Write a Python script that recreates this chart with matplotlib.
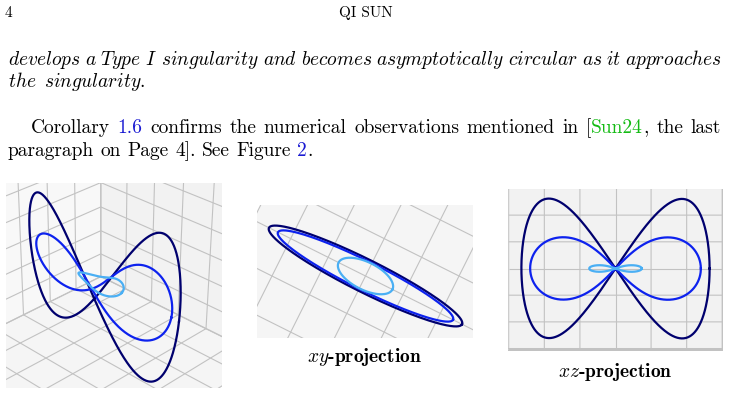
import numpy as np
import matplotlib
matplotlib.use('Agg')
import matplotlib.pyplot as plt
from matplotlib.path import Path
from matplotlib.patches import PathPatch
from matplotlib.transforms import Bbox, IdentityTransform, TransformedBbox
from mpl_toolkits.mplot3d import proj3d

plt.rcParams['mathtext.fontset'] = 'cm'
plt.rcParams['axes.unicode_minus'] = False
plt.rcParams['grid.color'] = '#c2c2c2'

W, H = 730, 395

# figure-eight space curves, amplitudes (box is [-1, 1]^3)
amp_x = [0.86, 0.78, 0.24]
amp_y = [0.13, 0.115, 0.11]
amp_z = [0.85, 0.38, 0.04]
pinch = [0.0, 1.0, 1.0]   # 0 -> Gerono-like lobes, 1 -> Bernoulli-like lobes
line_colors = ['#00006e', '#0d22ee', '#4aaff4']

ticks = np.linspace(-1, 1, 7)

views = [(30, -45), (90, -65), (0, -90)]
proj_types = [('persp', 1.0), ('ortho', None), ('persp', 5.0)]
# visible part of each panel (pixels, top-down)
crops = [(6, 183, 222, 388), (257, 205, 473, 338), (508, 189, 723, 351)]
# where the dark curve (panels 1, 2) or the back wall (panel 3) lands
targets = [(28, 194, 182, 380), (266, 227, 465, 325), (508, 189, 723, 348)]
captions = ['$xy$-projection', '$xz$-projection']
caption_pos = [(364, 362), (615, 377)]

header_left = '4'
header_mid = 'QI SUN'
italic_1 = 'develops a Type I singularity and becomes asymptotically circular as it approaches'.split()
italic_2 = ['the', 'singularity.']
LINK, CITE, TXT = '#1a1ad2', '#14bb14', 'black'
body_1 = [[('Corollary', TXT)], [('1.6', LINK)], [('confirms', TXT)], [('the', TXT)],
          [('numerical', TXT)], [('observations', TXT)], [('mentioned', TXT)], [('in', TXT)],
          [('[', TXT), ('Sun24', CITE), (',', TXT)], [('the', TXT)], [('last', TXT)]]
body_2 = [[('paragraph', TXT)], [('on', TXT)], [('Page', TXT)], [('4].', TXT)],
          [('See', TXT)], [('Figure', TXT)], [('2', LINK), ('.', TXT)]]


def figure_eight(i, n=800):
    # xy-shadow is an ellipse, xz-shadow a figure eight whose lobes go
    # from Gerono (pinch 0) to Bernoulli (pinch 1) shape
    t = np.linspace(0, 2 * np.pi, n)
    c, s = np.cos(t), np.sin(t)
    gerono = 2 * c * s
    bern = np.sign(c * s) * np.sqrt(np.clip((np.sqrt(1 + 8 * c ** 2) - 1 - 2 * c ** 2) / 2, 0, None))
    bern = bern / bern.max()
    z = (1 - pinch[i]) * gerono + pinch[i] * bern
    return amp_x[i] * c, amp_y[i] * s, amp_z[i] * z / z.max()


fig = plt.figure(figsize=(W / 100, H / 100), dpi=100)


def screen_box(ax, pts):
    xs, ys, _ = proj3d.proj_transform(*pts, ax.get_proj())
    d = ax.transData.transform(np.column_stack([xs, ys]))
    return d[:, 0].min(), H - d[:, 1].max(), d[:, 0].max(), H - d[:, 1].min()


def fit(ax, pts, target):
    zoom = 1.0
    for _ in range(4):
        fig.canvas.draw()
        x0, y0, x1, y1 = screen_box(ax, pts)
        zoom *= 0.5 * ((target[2] - target[0]) / (x1 - x0) + (target[3] - target[1]) / (y1 - y0))
        ax.set_box_aspect(None, zoom=zoom)
        fig.canvas.draw()
        x0, y0, x1, y1 = screen_box(ax, pts)
        dx = (target[0] + target[2]) / 2 - (x0 + x1) / 2
        dy = (target[1] + target[3]) / 2 - (y0 + y1) / 2
        p = ax.get_position(original=True)
        ax.set_position([p.x0 + dx / W, p.y0 - dy / H, p.width, p.height])


axes = []
for k, (elev, azim) in enumerate(views):
    c = crops[k]
    ax = fig.add_axes([c[0] / W, 1 - c[3] / H, (c[2] - c[0]) / W, (c[3] - c[1]) / H],
                      projection='3d')
    ax.set_facecolor('none')
    ptype, focal = proj_types[k]
    if ptype == 'ortho':
        ax.set_proj_type('ortho')
    else:
        ax.set_proj_type('persp', focal_length=focal)
    for i in range(len(amp_x)):
        ax.plot(*figure_eight(i), color=line_colors[i], lw=1.6)
    ax.set_xlim(-1, 1)
    ax.set_ylim(-1, 1)
    ax.set_zlim(-1, 1)
    ax.set_xticks(ticks)
    ax.set_yticks(ticks)
    ax.set_zticks(ticks)
    ax.set_xticklabels([])
    ax.set_yticklabels([])
    ax.set_zticklabels([])
    for axis in (ax.xaxis, ax.yaxis, ax.zaxis):
        axis._axinfo['tick']['inward_factor'] = 0
        axis._axinfo['tick']['outward_factor'] = 0
        axis.line.set_visible(False)
    ax.view_init(elev=elev, azim=azim)
    axes.append(ax)

fit(axes[0], figure_eight(0), targets[0])
fit(axes[1], figure_eight(0), targets[1])
back_wall = (np.array([-1, 1, 1, -1]), np.array([1, 1, 1, 1]), np.array([-1, -1, 1, 1]))
fit(axes[2], back_wall, targets[2])

# crop every panel to its visible window
for ax, c in zip(axes, crops):
    box = TransformedBbox(Bbox.from_extents(c[0], H - c[3], c[2], H - c[1]), IdentityTransform())
    arts = list(ax.lines)
    for axis in (ax.xaxis, ax.yaxis, ax.zaxis):
        arts += [axis.pane, axis.gridlines]
    for a in arts:
        a.set_clip_on(True)
        a.set_clip_box(box)

verts = [(0, 0), (1, 0), (1, 1), (0, 1), (0, 0)]
codes = [Path.MOVETO, Path.LINETO, Path.LINETO, Path.LINETO, Path.CLOSEPOLY]
for c in crops:
    x0, x1 = c[0] / W, c[2] / W
    y0, y1 = 1 - c[3] / H, 1 - c[1] / H
    verts += [(x0, y0), (x0, y1), (x1, y1), (x1, y0), (x0, y0)]
    codes += [Path.MOVETO, Path.LINETO, Path.LINETO, Path.LINETO, Path.CLOSEPOLY]
fig.add_artist(PathPatch(Path(verts, codes), facecolor='white', edgecolor='none',
                         transform=fig.transFigure, zorder=5))

renderer = fig.canvas.get_renderer()
body = dict(family='cmr10', size=14)


def put(x, y, s, **kw):
    t = fig.text(x / W, 1 - y / H, s, va='baseline', zorder=10, **kw)
    return t.get_window_extent(renderer).width


def width(s, **kw):
    t = fig.text(0, 0, s, **kw)
    w = t.get_window_extent(renderer).width
    t.remove()
    return w


def put_line(y, x0, x1, words, space=None, **kw):
    widths = [sum(width(s, **kw) for s, _ in w) for w in words]
    gap = (x1 - x0 - sum(widths)) / (len(words) - 1) if space is None else space
    x = x0
    for w in words:
        for s, col in w:
            x += put(x, y, s, color=col, **kw)
        x += gap


def it(word):
    return r'$\mathit{' + word + '}$'


put(5, 17, header_left, family='cmr10', size=11)
fig.text(366 / W, 1 - 17 / H, header_mid, family='cmr10', size=11, ha='center',
         va='baseline', zorder=10)

put_line(65, 8, 722, [[(it(w), TXT)] for w in italic_1], size=14)
put_line(87, 8, 722, [[(it(w), TXT)] for w in italic_2], space=7, size=14)
put_line(133, 31, 721, body_1, **body)
put_line(156, 8, 722, body_2, space=6.5, **body)

for cap, (cx, cy) in zip(captions, caption_pos):
    fig.text(cx / W, 1 - cy / H, cap, family='cmb10', size=14, ha='center',
             va='baseline', zorder=10)

fig.savefig('out.png', dpi=100)
